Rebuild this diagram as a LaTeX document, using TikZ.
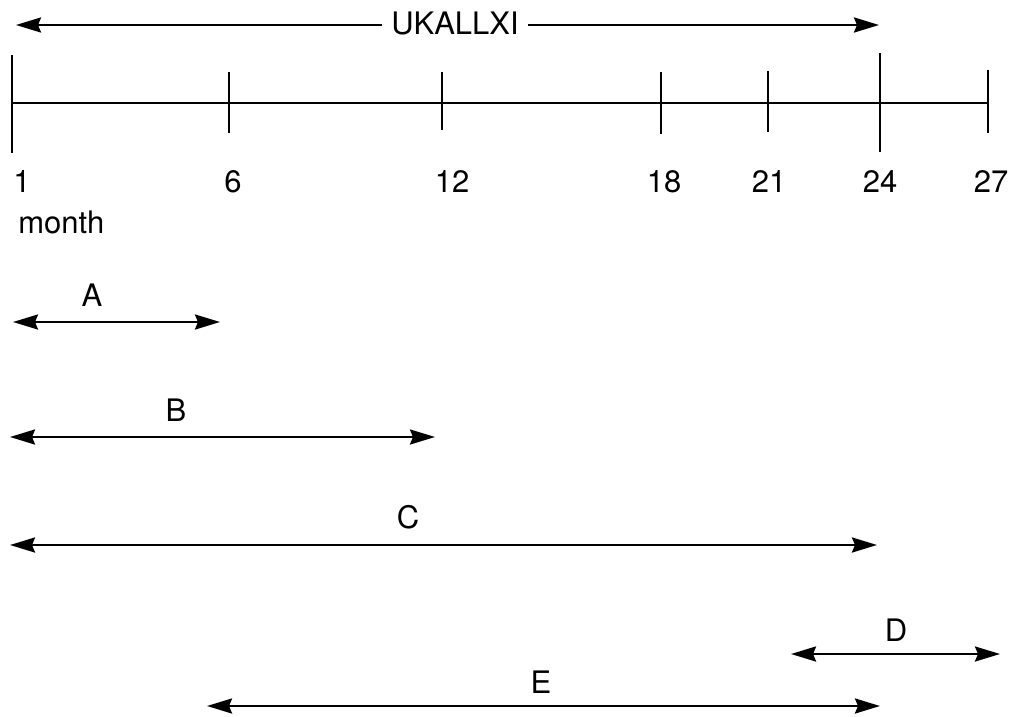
\documentclass[tikz,border=0pt]{standalone}
\usepackage{fontspec}
\setmainfont{TeX Gyre Heros}
\usetikzlibrary{arrows.meta}
\begin{document}
\begin{tikzpicture}[x=1pt,y=-1pt,line width=2.6pt,
  dbl/.style={{Stealth[length=25pt,width=15pt,inset=3pt]}-{Stealth[length=25pt,width=15pt,inset=3pt]}},
  lbl/.style={font=\fontsize{31}{34}\selectfont,inner sep=0pt,anchor=base},
  tick/.style={line width=2.2pt}]
\useasboundingbox (0,0) rectangle (1014,717);
% top span
\coordinate (uL) at (16,25);
\coordinate (uR) at (879,25);
\node[lbl,fill=white,inner xsep=8pt,inner ysep=6pt] (uk) at (455,35) {UKALLXI};
\draw[-{Stealth[length=25pt,width=15pt,inset=3pt]}] (uk.west|-uL) -- (uL);
\draw[-{Stealth[length=25pt,width=15pt,inset=3pt]}] (uk.east|-uR) -- (uR);
% axis
\coordinate (a1) at (12,103);
\coordinate (a27) at (988,103);
\draw (a1) -- (a27);
\foreach \n/\x/\ya/\yb in {1/12/55/153,6/229/72/133,12/442/72/130,18/661/72/134,21/768/71/132,24/880/53/152,27/988/70/133}{
  \coordinate (t\n top) at (\x,\ya);
  \coordinate (t\n bot) at (\x,\yb);
  \draw[tick] (t\n top) -- (t\n bot);
}
\foreach \n/\x in {1/22,6/233,12/452,18/664,21/769,24/880,27/991}{
  \node[lbl] (l\n) at (\x,192) {\n};
}
\node[lbl,anchor=base west] (month) at (17,233) {month};
% spans
\foreach \s/\xa/\xb/\y/\lx/\ly in {A/13/220/322/92/306,B/10/435/437/176/421,C/10/877/545/408/528,D/791/1000/654/896/641,E/207/880/706/541/693}{
  \coordinate (\s L) at (\xa,\y);
  \coordinate (\s R) at (\xb,\y);
  \draw[dbl] (\s L) -- (\s R);
  \node[lbl] (\s lab) at (\lx,\ly) {\s};
}
\end{tikzpicture}
\end{document}
